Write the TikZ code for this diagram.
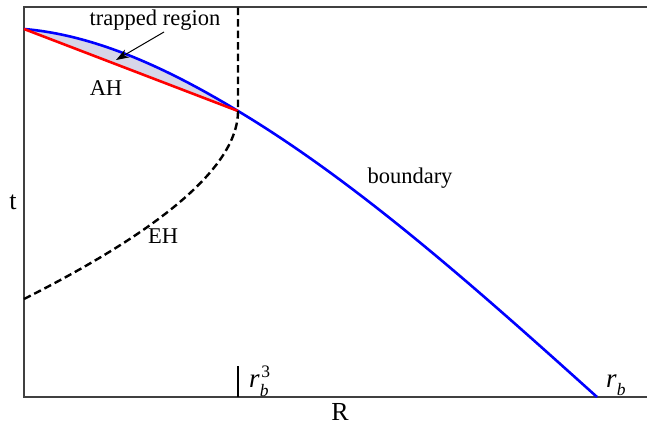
\documentclass[tikz,border=0pt]{standalone}
\usepackage{fontspec}
\setmainfont{Liberation Serif}
\usetikzlibrary{arrows.meta}
\definecolor{trapfill}{RGB}{214,214,232}
\newcommand\smallidx[1]{{\fontsize{17.5}{20}\selectfont #1}}
\tikzset{
  frameline/.style={line width=1.4pt, draw=black!75},
  bnd/.style={line width=2.6pt, draw=blue},
  ah/.style={line width=2.6pt, draw=red},
  eh/.style={line width=2.4pt, draw=black, dash pattern=on 7.5pt off 4pt},
  lbl/.style={inner sep=0pt, font=\fontsize{22.5}{26}\selectfont},
  axlbl/.style={inner sep=0pt, font=\fontsize{26}{30}\selectfont},
  rlbl/.style={inner sep=0pt, font=\fontsize{27}{30}\selectfont},
}
\begin{document}
\begin{tikzpicture}[x=1pt,y=-1pt]
\useasboundingbox (0,0) rectangle (647,425);
% frame
\draw[frameline] (647,7) -- (24,7) -- (24,397) -- (647,397);
% key points
\coordinate (O) at (24,29);
\coordinate (X) at (238,111);
\coordinate (E0) at (24,299);
\coordinate (Etop) at (238,7);
\coordinate (B) at (597,397);
% trapped region fill
\fill[trapfill] (O) .. controls (95,35) and (167,68) .. (X) -- cycle;
% boundary
\draw[bnd] (O) .. controls (95,35) and (167,68) .. (X)
  .. controls (358,183) and (477,289) .. (B);
% apparent horizon
\draw[ah] (O) -- (X);
% event horizon
\draw[eh] (E0) .. controls (125,248) and (238,178) .. (X) -- (Etop);
% tick
\coordinate (T0) at (238,366);
\coordinate (T1) at (238,397);
\draw[line width=2.2pt] (T0) -- (T1);
% labels
\node[lbl] (trap) at (155,20) {trapped region};
\node[lbl] (ahl) at (106,88) {AH};
\node[lbl] (ehl) at (163,236) {EH};
\node[lbl] (bl) at (410,178) {boundary};
\node[axlbl] (tl) at (13,202) {t};
\node[axlbl] (Rl) at (340,412) {R};
\node[rlbl, anchor=base west] (r3) at (249,387) {\textit{r}\makebox[0pt][l]{\raisebox{-9pt}{\smallidx{\textit{b}}}}\hspace{1.5pt}\raisebox{10pt}{\smallidx{3}}};
\node[rlbl, anchor=base west] (rb) at (606,387) {\textit{r}\raisebox{-8pt}{\smallidx{\textit{b}}}};
% arrow
\coordinate (A0) at (164,32);
\coordinate (A1) at (116,60);
\draw[line width=1pt, -{Stealth[length=13pt,width=9pt]}] (A0) -- (A1);
\end{tikzpicture}
\end{document}
